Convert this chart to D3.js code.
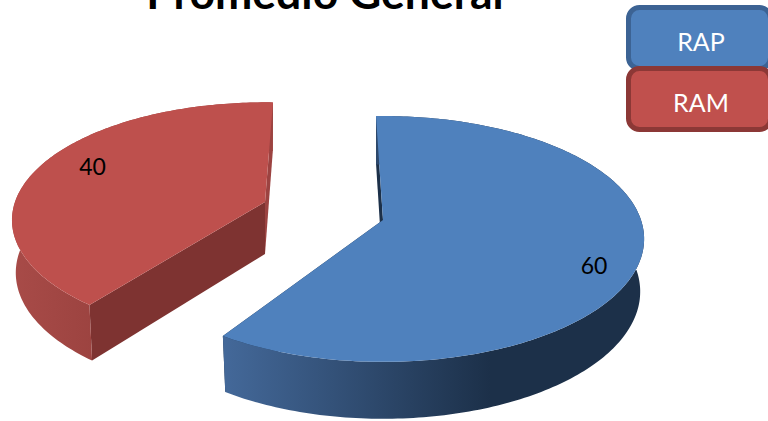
<!DOCTYPE html>
<html>
<head>
<meta charset="utf-8">
<script src="https://cdnjs.cloudflare.com/ajax/libs/d3/7.8.5/d3.min.js"></script>
<style>
html, body { margin: 0; padding: 0; background: #fff; overflow: hidden; }
svg { display: block; font-family: Lato, sans-serif; }
</style>
</head>
<body>
<script>
// chart values
var categories = ["RAP", "RAM"];
var values = [60, 40];
var chartTitle = "Promedio General";

// one layout per slice, the slices are exploded so each one has its own apex
var layouts = [
    {ax: 383, ay: 220, R: 258, H: 120, rotate: -1.8, trim: 1.5, labelDx: 0, labelDy: 19,
     top: "#4f81bd", gradient: "wallBlue", startFace: "#1c3049", endFace: "#1c3049"},
    {ax: 265, ay: 202, R: 250, H: 115, rotate: 2.1, trim: 0, labelDx: 12, labelDy: -4,
     top: "#be504d", gradient: "wallRed", startFace: "#7e3331", endFace: "#9c4341"}
];
var legendColors = [
    {fill: "#4f81bd", stroke: "#3c6394"},
    {fill: "#c0504d", stroke: "#8c3836"}
];

var width = 768, height = 421;
var perspective = 0.154;   // far side of the pie is smaller
var depth = 52, bottomSx = 0.985, bottomSy = 1.035;

var svg = d3.select("body").append("svg")
    .attr("width", width)
    .attr("height", height);

var defs = svg.append("defs");

function addGradient(id, x1, x2, stops) {
    var g = defs.append("linearGradient")
        .attr("id", id)
        .attr("gradientUnits", "userSpaceOnUse")
        .attr("x1", x1).attr("x2", x2)
        .attr("y1", 0).attr("y2", 0);
    stops.forEach(function(s) {
        g.append("stop").attr("offset", s[0]).attr("stop-color", s[1]);
    });
}
addGradient("wallBlue", 222, 490, [[0, "#44699a"], [1, "#1c3049"]]);
addGradient("wallRed", 12, 95, [[0, "#a84b48"], [1, "#9c4340"]]);

// circle -> screen, f is the fraction of the radius
function project(l, angle, f) {
    var u = Math.sin(angle) * f, v = Math.cos(angle) * f;
    var w = 1 + perspective * v;
    return [u * l.R / w, -v * l.H / w];
}
function topPoint(l, angle, f) {
    var p = project(l, angle, f);
    return [l.ax + p[0], l.ay + p[1]];
}
function bottomPoint(l, angle, f) {
    var p = project(l, angle, f);
    return [l.ax + p[0] * bottomSx, l.ay + depth + p[1] * bottomSy];
}

var line = d3.line();
var pie = d3.pie().sort(null);
var arcs = pie(values);
var rad = Math.PI / 180;

// draw red first, it sits behind in the original order of the shapes
[1, 0].forEach(function(i) {
    var l = layouts[i], arc = arcs[i];
    var a0 = arc.startAngle + l.rotate * rad;
    var a1 = arc.endAngle + (l.rotate - l.trim) * rad;
    var angles = d3.range(a0, a1, rad).concat([a1]);

    var rimTop = angles.map(function(a) { return topPoint(l, a, 1); });
    var rimBottom = angles.map(function(a) { return bottomPoint(l, a, 1); });
    var apexTop = topPoint(l, 0, 0), apexBottom = bottomPoint(l, 0, 0);

    var g = svg.append("g").attr("class", "slice");

    // cut face at the far end
    g.append("path")
        .attr("d", line([rimTop[rimTop.length - 1], rimBottom[rimBottom.length - 1], apexBottom, apexTop]) + "Z")
        .attr("fill", l.endFace);
    // cut face at the near end
    g.append("path")
        .attr("d", line([rimTop[0], rimBottom[0], apexBottom, apexTop]) + "Z")
        .attr("fill", l.startFace);
    // outer wall
    g.append("path")
        .attr("d", line(rimTop.concat(rimBottom.slice().reverse())) + "Z")
        .attr("fill", "url(#" + l.gradient + ")");
    // top
    g.append("path")
        .attr("d", line([apexTop].concat(rimTop)) + "Z")
        .attr("fill", l.top);

    var mid = (a0 + a1) / 2;
    var lp = topPoint(l, mid, 0.82);
    g.append("text")
        .attr("x", lp[0] + l.labelDx)
        .attr("y", lp[1] + l.labelDy + 8)
        .attr("text-anchor", "middle")
        .style("font-size", "23px")
        .style("fill", "#000")
        .text(values[i]);
});

// title, cut by the top of the picture as in the original
svg.append("text")
    .attr("x", 325)
    .attr("y", 9)
    .attr("text-anchor", "middle")
    .style("font-size", "44.5px")
    .style("font-weight", "bold")
    .style("fill", "#000")
    .text(chartTitle);

// legend
var legendY = d3.scaleBand().domain(categories).range([5, 127]).paddingInner(0);
var legend = svg.selectAll(".legend")
    .data(categories)
    .enter().append("g")
    .attr("class", "legend");
legend.append("rect")
    .attr("x", 628.5)
    .attr("y", function(d) { return legendY(d) + 2.5; })
    .attr("width", 142)
    .attr("height", 61)
    .attr("rx", 11)
    .attr("fill", function(d, i) { return legendColors[i].fill; })
    .attr("stroke", function(d, i) { return legendColors[i].stroke; })
    .attr("stroke-width", 5);
legend.append("text")
    .attr("x", 701)
    .attr("y", function(d) { return legendY(d) + 46; })
    .attr("text-anchor", "middle")
    .style("font-size", "25px")
    .style("fill", "#fff")
    .text(function(d) { return d; });
</script>
</body>
</html>
